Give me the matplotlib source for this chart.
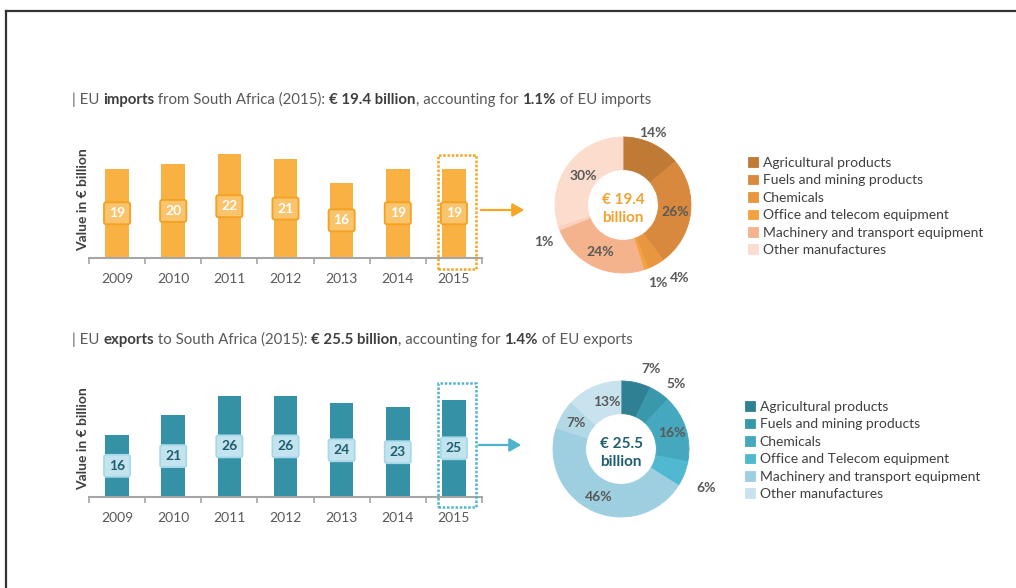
import matplotlib
matplotlib.use("Agg")
import matplotlib.pyplot as plt
import matplotlib.transforms as mtransforms
import numpy as np
from matplotlib.lines import Line2D
from matplotlib.patches import FancyArrowPatch, Rectangle

plt.rcParams["font.family"] = ["Lato", "DejaVu Sans"]

years = ["2009", "2010", "2011", "2012", "2013", "2014", "2015"]
imports_values = [19, 20, 22, 21, 16, 19, 19]
exports_values = [16, 21, 26, 26, 24, 23, 25]

categories = [
    "Agricultural products",
    "Fuels and mining products",
    "Chemicals",
    "Office and telecom equipment",
    "Machinery and transport equipment",
    "Other manufactures",
]
export_categories = [
    "Agricultural products",
    "Fuels and mining products",
    "Chemicals",
    "Office and Telecom equipment",
    "Machinery and transport equipment",
    "Other manufactures",
]
# shares in ring order, clockwise from the top; index 5 is a small residual
# group that has no legend entry
imports_shares = [14, 26, 4, 1, 24, 1, 30]
exports_shares = [7, 5, 16, 6, 46, 7, 13]
legend_slices = [0, 1, 2, 3, 4, 6]

imports_colors = ["#bf7a36", "#d8893d", "#e8963f", "#f6a13f", "#f5b38d", "#fbd0bd", "#fbdccd"]
exports_colors = ["#2f8093", "#3998ac", "#46a8be", "#50b9d1", "#9ecfe0", "#b3d9e7", "#c9e3ee"]

W, H = 1016, 588
GREY = "#595959"
DARK = "#3f3f3f"

fig = plt.figure(figsize=(W / 100, H / 100), dpi=100)
renderer = fig.canvas.get_renderer()


def fig_x(px):
    return px / W


def fig_y(py):
    return 1 - py / H


def text_width(text, size, weight):
    # advance width of a string, spaces included, measured between two sentinels
    probe = fig.text(0, 0, "x" + text + "x", fontsize=size, fontweight=weight)
    base = fig.text(0, 0, "xx", fontsize=size, fontweight=weight)
    width = probe.get_window_extent(renderer).width - base.get_window_extent(renderer).width
    probe.remove()
    base.remove()
    return width


def rich_line(x_px, y_px, parts, size=10.8):
    # draws a line of text whose pieces switch between regular and bold
    x = fig_x(x_px)
    for text, bold in parts:
        weight = "bold" if bold else "normal"
        color = DARK if bold else GREY
        fig.text(x, fig_y(y_px), text, fontsize=size, fontweight=weight, color=color, va="center", ha="left")
        x += text_width(text, size, weight) / W


def bar_panel(axis_y, top, values, bar_color, box_face, box_edge, box_text, frame_color, frame_y):
    ax = fig.add_axes([fig_x(89), 1 - axis_y / H, fig_x(393), 113 / H])
    x = np.arange(len(years))
    ax.bar(x, values, width=0.42, color=bar_color, zorder=2)
    for i, v in enumerate(values):
        ax.text(i, v / 2, str(v), ha="center", va="center", fontsize=10, fontweight="bold", color=box_text,
                zorder=3, bbox=dict(boxstyle="round,pad=0.36,rounding_size=0.15", fc=box_face, ec=box_edge, lw=1.3))
    ax.set_xlim(-0.5, len(years) - 0.5)
    ax.set_ylim(0, top)
    for side in ["left", "right", "top"]:
        ax.spines[side].set_visible(False)
    ax.spines["bottom"].set_color("#a6a6a6")
    ax.spines["bottom"].set_linewidth(1.5)
    ax.set_yticks([])
    ax.set_xticks(x)
    ax.set_xticklabels(years, fontsize=10, color=GREY)
    ax.set_xticks(np.arange(-0.5, len(years)), minor=True)
    ax.tick_params(axis="x", which="major", length=0, pad=11)
    ax.tick_params(axis="x", which="minor", length=4, width=1.2, color="#a6a6a6", direction="out")
    ax.set_ylabel("Value in € billion", fontsize=10, fontweight="bold", color=DARK)
    ax.yaxis.set_label_coords(0.0, 0.52)
    blend = mtransforms.blended_transform_factory(ax.transData, ax.transAxes)
    ax.add_patch(Rectangle((5.72, frame_y[0]), 0.68, frame_y[1] - frame_y[0], transform=blend, fill=False,
                           ec=frame_color, lw=1.8, ls=(0, (1, 0.7)), clip_on=False, zorder=4))
    return ax


def donut(cx, cy, shares, colors, center_text, center_color, label_radius, label_turn):
    r_px = 68
    lim = 1.6
    side = 2 * lim * r_px
    ax = fig.add_axes([fig_x(cx - side / 2), (H - cy - side / 2) / H, side / W, side / H])
    wedges, _ = ax.pie(shares, colors=colors, startangle=90, counterclock=False, radius=1,
                       wedgeprops=dict(width=0.48, linewidth=0.6))
    for w in wedges:
        w.set_edgecolor(w.get_facecolor())
    ax.set_xlim(-lim, lim)
    ax.set_ylim(-lim, lim)
    ax.set_aspect("equal")
    cum = 0
    for v, rad, turn in zip(shares, label_radius, label_turn):
        # label sits on the slice's middle angle, nudged for the thin slices
        theta = np.deg2rad(90 - 360 * (cum + v / 2) / 100 + turn)
        ax.text(rad * np.cos(theta), rad * np.sin(theta), f"{v}%", ha="center", va="center",
                fontsize=10, fontweight="bold", color=GREY)
        cum += v
    ax.text(0, -0.06, center_text, ha="center", va="center", fontsize=11, fontweight="bold",
            color=center_color, linespacing=1.3)
    return [wedges[i] for i in legend_slices]


def legend_rows(handles, labels, x_px, y_px):
    fig.legend(handles, labels, loc="upper left", bbox_to_anchor=(fig_x(x_px), fig_y(y_px)),
               frameon=False, fontsize=10, labelcolor=DARK, handlelength=0.7, handleheight=0.7,
               handletextpad=0.35, labelspacing=0.39, borderpad=0, borderaxespad=0)


def arrow(x0, x1, y, color):
    fig.add_artist(FancyArrowPatch((fig_x(x0), fig_y(y)), (fig_x(x1), fig_y(y)), transform=fig.transFigure,
                                   arrowstyle="-|>,head_length=0.7,head_width=0.4", mutation_scale=10,
                                   lw=1.6, color=color))


# outer frame (top and left edges only)
fig.add_artist(Line2D([fig_x(6), 1], [fig_y(11), fig_y(11)], transform=fig.transFigure, color="#333333", lw=1.6))
fig.add_artist(Line2D([fig_x(6), fig_x(6)], [fig_y(11), 0], transform=fig.transFigure, color="#333333", lw=1.6))

# imports
rich_line(72, 100, [("| EU ", False), ("imports", True), (" from South Africa (2015): ", False),
                    ("€ 19.4 billion", True), (", accounting for ", False), ("1.1%", True),
                    (" of EU imports", False)])
bar_panel(258, 24, imports_values, "#f9b143", "#f9c46c", "#f4a020", "white", "#f5a623", (-0.1, 0.91))
arrow(478, 527, 210, "#f5a623")
imp_handles = donut(623, 205, imports_shares, imports_colors, "€ 19.4\nbillion", "#f5a130",
                    [1.15, 0.77, 1.36, 1.25, 0.77, 1.28, 0.72],
                    [3, 0, 9, 4, 0, 5, 0])
legend_rows(imp_handles, categories, 748, 157)

# exports
rich_line(72, 340, [("| EU ", False), ("exports", True), (" to South Africa (2015): ", False),
                    ("€ 25.5 billion", True), (", accounting for ", False), ("1.4%", True),
                    (" of EU exports", False)])
bar_panel(497, 29, exports_values, "#3592a6", "#c3e3ee", "#a9d9e9", "#1f5e6e", "#4fb3cc", (-0.09, 1.01))
arrow(476, 524, 445, "#4fb3cc")
exp_handles = donut(621, 449, exports_shares, exports_colors, "€ 25.5\nbillion", "#1f5e6e",
                    [1.25, 1.25, 0.78, 1.38, 0.78, 0.76, 0.72],
                    [-8, -6, 0, -3, 0, 0, -6])
legend_rows(exp_handles, export_categories, 745, 401)

fig.savefig("out.png", dpi=100)
plt.close(fig)
